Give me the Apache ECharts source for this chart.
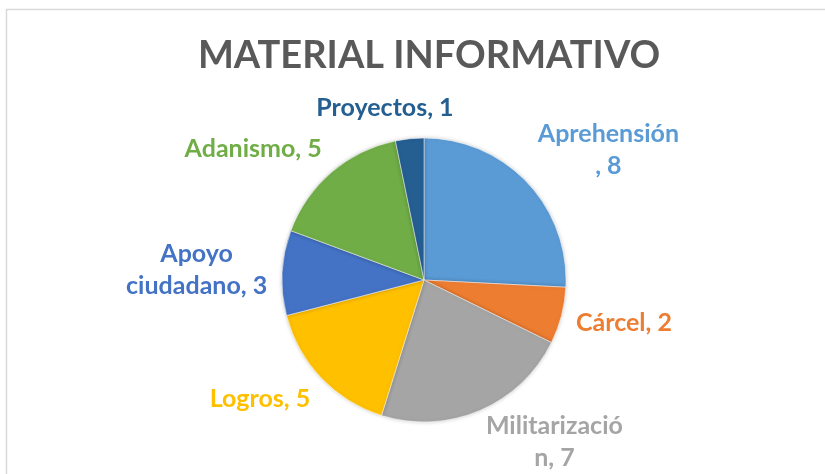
<!DOCTYPE html>
<html>
<head>
<meta charset="utf-8">
<script src="https://cdn.jsdelivr.net/npm/echarts@6/dist/echarts.min.js"></script>
<style>
  html, body { margin: 0; background: #fff; }
  #chart { width: 825px; height: 474px; }
</style>
</head>
<body>
<div id="chart"></div>
<script>
const categories = ['Aprehensión', 'Cárcel', 'Militarización', 'Logros', 'Apoyo ciudadano', 'Adanismo', 'Proyectos'];
const values = [8, 2, 7, 5, 3, 5, 1];
const colors = ['#5B9BD5', '#ED7D31', '#A5A5A5', '#FFC000', '#4472C4', '#70AD47', '#255E91'];
// character index where the original wrapped each label
const labelBreaks = { 'Aprehensión': 11, 'Militarización': 13, 'Apoyo ciudadano': 5 };

const width = 825, height = 474;
const cx = 424, cy = 280, radius = 142;
const total = values.reduce((a, b) => a + b, 0);

function labelText(name, value) {
	const s = name + ', ' + value;
	const at = labelBreaks[name];
	if (at === undefined) {
		return s;
	}
	return s.slice(0, at) + '\n' + s.slice(at).trim();
}

const chart = echarts.init(document.getElementById('chart'));
chart.setOption({
	animation: false,
	title: {
		text: 'MATERIAL INFORMATIVO',
		left: cx,
		top: 32,
		textAlign: 'center',
		textStyle: {
			fontFamily: 'Lato',
			fontWeight: 'bold',
			fontSize: 38,
			color: '#595959'
		}
	},
	graphic: [{
		type: 'rect',
		shape: { x: 6.5, y: 9.5, width: 900, height: 600 },
		style: { fill: 'none', stroke: '#d9d9d9', lineWidth: 1.5 },
		silent: true
	}],
	series: [{
		type: 'pie',
		center: [cx, cy],
		radius: radius,
		startAngle: 90,
		clockwise: true,
		avoidLabelOverlap: false,
		itemStyle: {
			borderColor: '#fff',
			borderWidth: 0.5,
			shadowBlur: 4,
			shadowColor: 'rgba(0,0,0,0.2)'
		},
		label: {
			position: 'outside',
			fontFamily: 'Lato',
			fontWeight: 'bold',
			fontSize: 25,
			lineHeight: 32,
			formatter: p => labelText(p.name, p.value)
		},
		labelLine: { show: false },
		// outside-end placement like the spreadsheet's best fit, kept inside the chart
		labelLayout: params => {
			const i = params.dataIndex;
			let before = 0;
			for (let k = 0; k < i; k++) {
				before += values[k];
			}
			const mid = (before + values[i] / 2) / total * Math.PI * 2;
			const sx = Math.sin(mid), sy = -Math.cos(mid);
			const gap = 15;
			const w = params.labelRect.width, h = params.labelRect.height;
			const px = cx + sx * (radius + gap), py = cy + sy * (radius + gap);
			const fx = Math.max(-1, Math.min(1, sx / 0.3));
			let y = py + sy * h / 2;
			y = Math.min(y, height - h / 2);
			return {
				x: px + fx * w / 2,
				y: y,
				align: 'center',
				verticalAlign: 'middle'
			};
		},
		data: categories.map((name, i) => ({
			name: name,
			value: values[i],
			itemStyle: { color: colors[i] },
			label: { color: colors[i] }
		}))
	}]
});
window.addEventListener('resize', () => chart.resize());
</script>
</body>
</html>
